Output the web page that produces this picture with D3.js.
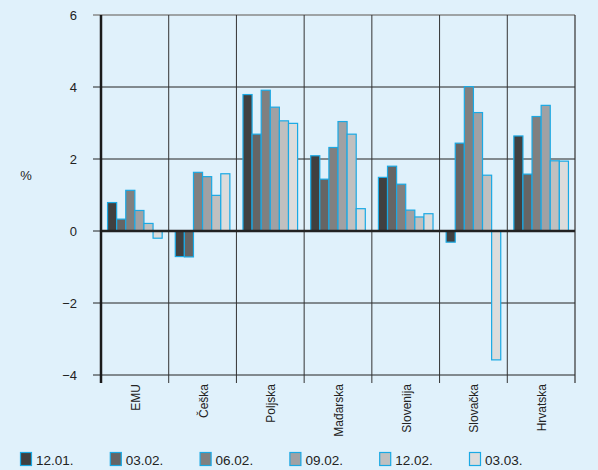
<!DOCTYPE html>
<html><head><meta charset="utf-8">
<script src="https://cdn.jsdelivr.net/npm/d3@7"></script>
<style>body{margin:0;background:#e0f1fb;}svg{display:block;font-family:"Liberation Sans",Arial,sans-serif;}</style>
</head><body>
<svg id="c" width="598" height="470"></svg>
<script>
const categories = ["EMU","Češka","Poljska","Mađarska","Slovenija","Slovačka","Hrvatska"];
const seriesNames = ["12.01.","03.02.","06.02.","09.02.","12.02.","03.03."];
const s1201 = [0.79,-0.71,3.79,2.09,1.49,-0.31,2.64];
const s0302 = [0.33,-0.72,2.69,1.44,1.80,2.44,1.58];
const s0602 = [1.13,1.63,3.91,2.32,1.30,4.01,3.18];
const s0902 = [0.57,1.51,3.44,3.04,0.58,3.29,3.49];
const s1202 = [0.21,0.99,3.06,2.69,0.39,1.55,1.95];
const s0303 = [-0.20,1.59,2.99,0.62,0.48,-3.58,1.94];
const yTicks = [-4,-2,0,2,4,6];
const colors = ["#404040","#656565","#808080","#a0a1a4","#c0c0c0","#dcdcdc"];
const series = [s1201,s0302,s0602,s0902,s1202,s0303];

const svg = d3.select("#c");
const L=101,R=575,T=15,B=375;
const x = d3.scaleBand().domain(categories).range([L,R]);
const xi = d3.scaleBand().domain(seriesNames).range([0,x.bandwidth()]).paddingOuter(0.72).paddingInner(0);
const y = d3.scaleLinear().domain([-4,6]).range([B,T]);

// horizontal gridlines
svg.append("g").selectAll("line").data(yTicks).join("line")
  .attr("x1",93).attr("x2",R).attr("y1",d=>y(d)).attr("y2",d=>y(d))
  .attr("stroke",d=>d===6?"#888":"#222").attr("stroke-width",d=>d===6?1.5:1);
// vertical gridlines
const bounds = d3.range(1,categories.length).map(i=>L+i*x.step());
svg.append("g").selectAll("line").data(bounds).join("line")
  .attr("x1",d=>d).attr("x2",d=>d).attr("y1",T).attr("y2",B+8)
  .attr("stroke","#333").attr("stroke-width",1);
svg.append("line").attr("x1",R).attr("x2",R).attr("y1",T).attr("y2",B+8).attr("stroke","#333").attr("stroke-width",1.2);

// bars
const g = svg.append("g");
categories.forEach((c,ci)=>{
  series.forEach((s,si)=>{
    const v = s[ci];
    g.append("rect")
      .attr("x",x(c)+xi(seriesNames[si]))
      .attr("width",xi.bandwidth())
      .attr("y",y(Math.max(0,v)))
      .attr("height",Math.abs(y(v)-y(0)))
      .attr("fill",colors[si]).attr("stroke","#1aa9e4").attr("stroke-width",1.2);
  });
});

// zero line and left axis
svg.append("line").attr("x1",L).attr("x2",R).attr("y1",y(0)).attr("y2",y(0)).attr("stroke","#222").attr("stroke-width",2.5);
svg.append("line").attr("x1",L).attr("x2",L).attr("y1",T).attr("y2",B+8).attr("stroke","#1a1a1a").attr("stroke-width",2.5);

// y tick labels
svg.append("g").selectAll("text").data(yTicks).join("text")
  .attr("x",77).attr("y",d=>y(d)+4.5).attr("text-anchor","end")
  .attr("font-size",13).attr("fill","#222")
  .text(d=>d<0?"\u2212"+Math.abs(d):d);
svg.append("text").attr("x",26).attr("y",180).attr("text-anchor","middle").attr("font-size",13).attr("fill","#222").text("%");

// category labels
svg.append("g").selectAll("text").data(categories).join("text")
  .attr("transform",d=>`translate(${x(d)+x.bandwidth()/2+5},${384}) rotate(-90)`)
  .attr("text-anchor","end").attr("font-size",12).attr("fill","#222").text(d=>d);

// legend
const lg = svg.append("g").selectAll("g").data(seriesNames).join("g")
  .attr("transform",(d,i)=>`translate(${20+i*89.8},452)`);
lg.append("rect").attr("x",0.5).attr("y",0.5).attr("width",11).attr("height",13)
  .attr("fill",(d,i)=>colors[i]).attr("stroke","#1aa9e4").attr("stroke-width",1.2);
lg.append("text").attr("x",16).attr("y",12.5).attr("font-size",13.5).attr("fill","#222").text(d=>d);
</script>
</body></html>
